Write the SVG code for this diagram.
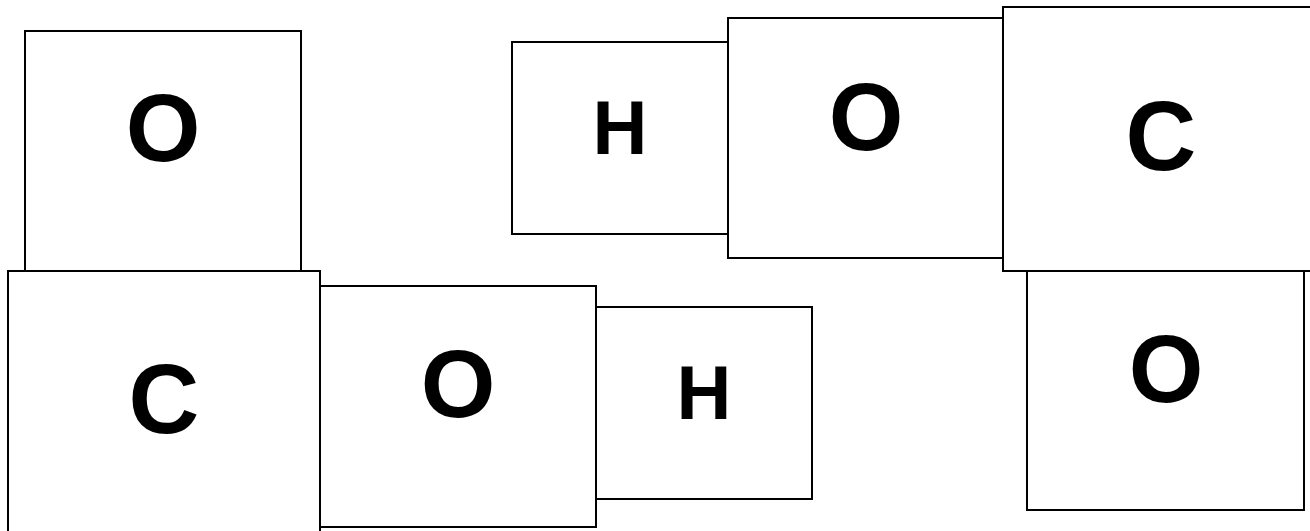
<svg xmlns="http://www.w3.org/2000/svg" width="1310" height="531" viewBox="0 0 1310 531">
<style>
rect{fill:#fff;stroke:#000;stroke-width:2}
text{font-family:"Liberation Sans",Arial,sans-serif;font-weight:bold;text-anchor:middle;fill:#000}
.big{font-size:96px}
.c{font-size:98px}
.h{font-size:76px}
</style>
<rect x="0" y="0" width="1310" height="531" style="stroke:none"/>
<g id="connectors"></g>
<g id="node-o1"><rect x="25" y="31" width="276" height="250"/><text class="big" x="163" y="161">O</text></g>
<g id="node-h1"><rect x="512" y="42" width="216" height="192"/><text class="h" x="620" y="154">H</text></g>
<g id="node-o2"><rect x="728" y="18" width="275" height="240"/><text class="big" x="866" y="150">O</text></g>
<g id="node-o4"><rect x="1027" y="250" width="277" height="260"/><text class="big" x="1166" y="402">O</text></g>
<g id="node-c1"><rect x="1003" y="7" width="312" height="264"/><text class="c" x="1161" y="170">C</text></g>
<g id="node-h2"><rect x="596" y="307" width="216" height="192"/><text class="h" x="704" y="419">H</text></g>
<g id="node-o3"><rect x="320" y="286" width="276" height="241"/><text class="big" x="458" y="417">O</text></g>
<g id="node-c2"><rect x="8" y="271" width="312" height="270"/><text class="c" x="164" y="433">C</text></g>
</svg>
